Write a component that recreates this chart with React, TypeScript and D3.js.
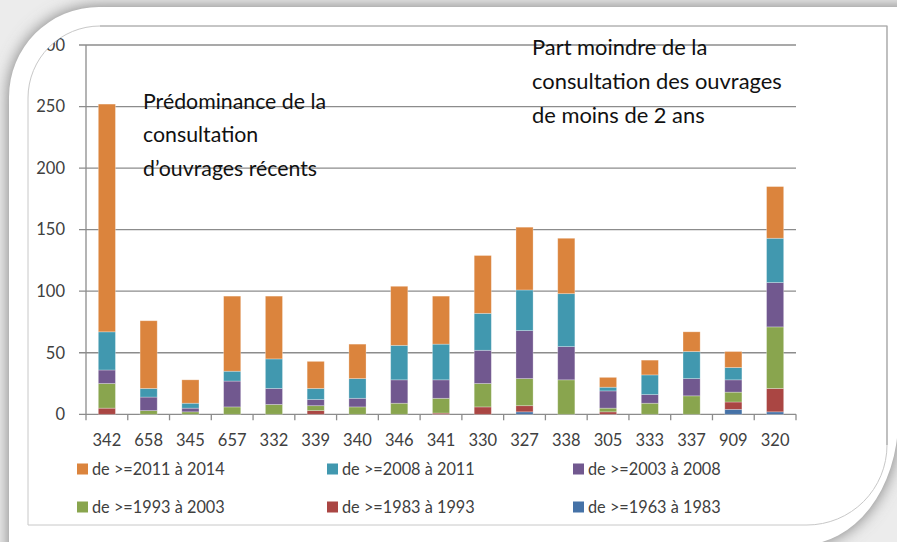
import React from "react";
import * as d3 from "d3";

const categories = ["342","658","345","657","332","339","340","346","341","330","327","338","305","333","337","909","320"];
const s1963 = [0,0,0,0,0,0,0,0,0,0,2,0,0,0,0,4,2];
const s1983 = [5,0,0,0,0,3,0,0,1,6,5,0,2,0,0,6,19];
const s1993 = [20,3,2,6,8,4,6,9,12,19,22,28,3,9,15,8,50];
const s2003 = [11,11,3,21,13,5,7,19,15,27,39,27,14,7,14,10,36];
const s2008 = [31,7,4,8,24,9,16,28,29,30,33,43,3,16,22,10,36];
const s2011 = [185,55,19,61,51,22,28,48,39,47,51,45,8,12,16,13,42];
const yTicks = [0,50,100,150,200,250,300];

const seriesNames = ["de >=1963 à 1983","de >=1983 à 1993","de >=1993 à 2003","de >=2003 à 2008","de >=2008 à 2011","de >=2011 à 2014"];
const seriesKeys = ["s1963","s1983","s1993","s2003","s2008","s2011"];
const seriesColors = ["#4572A7","#AA4643","#89A54E","#71588F","#4198AF","#DB843D"];
const legendOrder = [5,4,3,2,1,0];

const noteLeft = ["Prédominance de la","consultation","d’ouvrages récents"];
const noteRight = ["Part moindre de la","consultation des ouvrages","de moins de 2 ans"];

export default function App() {
  const W = 897, H = 542;
  const x0 = 86, x1 = 796, yBase = 414.3, yTop = 45;
  const rows = categories.map((c, i) => ({
    cat: c, s1963: s1963[i], s1983: s1983[i], s1993: s1993[i], s2003: s2003[i], s2008: s2008[i], s2011: s2011[i],
  }));
  const stack = d3.stack<any>().keys(seriesKeys)(rows);
  const x = d3.scaleBand<string>().domain(categories).range([x0, x1]).paddingInner(0.59).paddingOuter(0.295);
  const y = d3.scaleLinear().domain([0, 300]).range([yBase, yTop]);
  const step = (x1 - x0) / categories.length;
  const bounds = d3.range(categories.length + 1).map((i) => x0 + i * step);

  const font = "Lato, 'Open Sans', sans-serif";
  const card = "M 9 600 L 9 97 A 90 90 0 0 1 99 7 L 960 7 L 960 300 L 898 420 A 97 125 0 0 1 801 545 L 9 600 Z";
  const inner = "M 28 525 L 28 98 A 72 72 0 0 1 100 26 L 887 26 L 887 445 A 80 80 0 0 1 807 525 Z";
  const legCols = [77, 327, 573];
  const legRows = [469, 507];

  return (
    <svg width={W} height={H} style={{ position: "fixed", left: 0, top: 0, display: "block" }}>
      <defs>
        <filter id="sh" x="-20%" y="-20%" width="140%" height="140%">
          <feGaussianBlur stdDeviation="8" />
        </filter>
        <clipPath id="clipInner">
          <path d={inner} />
        </clipPath>
      </defs>
      <rect x={0} y={0} width={W} height={H} fill="#ececec" />
      <path d={card} fill="#7a7a7a" filter="url(#sh)" />
      <path d={card} fill="#ffffff" />
      <path d={inner} fill="#ffffff" stroke="#c8c8c8" strokeWidth={1} />
      <path d="M 100 26 L 887 26 L 887 445" fill="none" stroke="#a8a8a8" strokeWidth={1.2} />
      <g clipPath="url(#clipInner)">
        {yTicks.map((t) => (
          <g key={t}>
            <line x1={x0 - 7} x2={x1} y1={y(t)} y2={y(t)} stroke="#8c8c8c" strokeWidth={1.3} />
            <text x={65} y={y(t)} dy="0.35em" textAnchor="end" fontFamily={font} fontSize={16.5} fill="#404040">{t}</text>
          </g>
        ))}
        <line x1={x0} x2={x0} y1={yTop} y2={yBase} stroke="#8c8c8c" strokeWidth={1.3} />
        {bounds.map((b, i) => (
          <line key={i} x1={b} x2={b} y1={yBase} y2={yBase + 6} stroke="#8c8c8c" strokeWidth={1.3} />
        ))}
        {stack.map((layer, si) => (
          <g key={si} fill={seriesColors[si]}>
            {layer.map((d, i) => d[1] - d[0] > 0 ? (
              <rect key={i} x={x(categories[i])} width={x.bandwidth()} y={y(d[1])} height={y(d[0]) - y(d[1])}
                stroke="rgba(255,255,255,0.35)" strokeWidth={0.8} />
            ) : null)}
          </g>
        ))}
        {categories.map((c) => (
          <text key={c} x={(x(c) as number) + x.bandwidth() / 2} y={440} dy="0.35em" textAnchor="middle" fontFamily={font} fontSize={16.5} fill="#404040">{c}</text>
        ))}
        {noteLeft.map((t, i) => (
          <text key={t} x={143} y={101.5 + i * 33.5} dy="0.35em" fontFamily={font} fontSize={21.3} fill="#111">{t}</text>
        ))}
        {noteRight.map((t, i) => (
          <text key={t} x={532} y={47.5 + i * 34} dy="0.35em" fontFamily={font} fontSize={21.9} fill="#111">{t}</text>
        ))}
        {legendOrder.map((si, k) => {
          const cx = legCols[k % 3];
          const cy = legRows[Math.floor(k / 3)];
          return (
            <g key={si}>
              <rect x={cx} y={cy - 5.5} width={11} height={11} fill={seriesColors[si]} />
              <text x={cx + 15} y={cy} dy="0.35em" fontFamily={font} fontSize={16.3} fill="#404040">{seriesNames[si]}</text>
            </g>
          );
        })}
      </g>
    </svg>
  );
}
